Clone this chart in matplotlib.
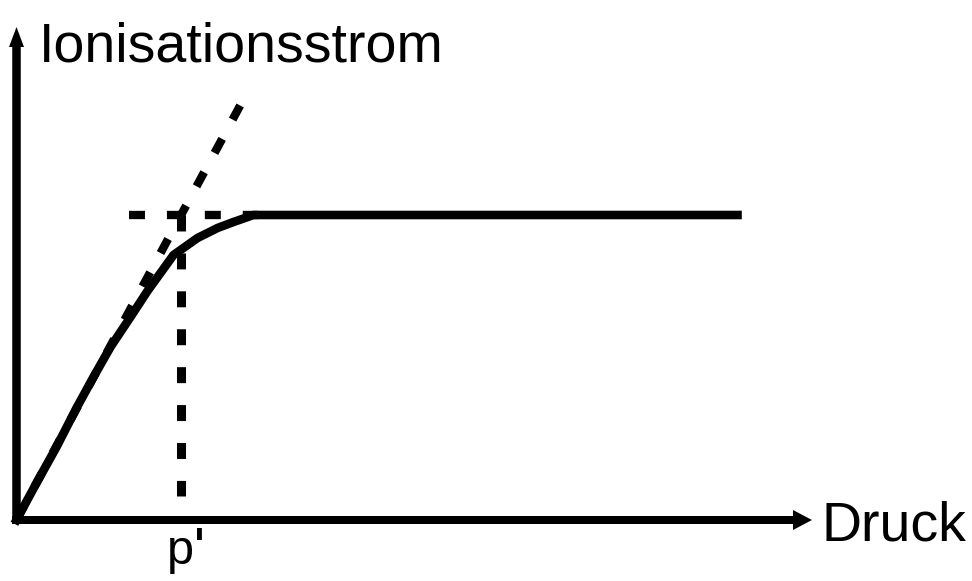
import matplotlib
matplotlib.use("Agg")
import matplotlib.pyplot as plt

# Ionisationsstrom in Abhaengigkeit vom Druck (schematisch)
druck = [0, 20, 40, 60, 77, 94, 114, 131, 157, 181, 201, 217, 237, 721]
strom = [0, 37, 73, 112, 143, 173, 203, 229, 265, 282, 292, 298, 305, 305]

# Tangente im Ursprung und Saettigungswert
tangente_x = [0, 225]
tangente_y = [0, 417]
saettigung = 305
p_strich = 164.5
saett_x = [112.5, 241.5]
p_y = [305, 24]

plt.rcParams['lines.scale_dashes'] = False
schrift = ['Liberation Sans Narrow', 'Liberation Sans']

fig = plt.figure(figsize=(9.72, 5.81), dpi=100)
ax = fig.add_axes([0, 0, 1, 1])
ax.set_xlim(-16.5, 955.5)
ax.set_ylim(-61, 520)
ax.axis('off')

strich = (0, (11.5, 15.8))

# Achsen mit Pfeilspitzen
ax.arrow(-4.5, 0, 800, 0, width=8, head_width=20, head_length=19,
         length_includes_head=True, color='black', lw=0)
ax.arrow(0, -4, 0, 497, width=8.5, head_width=15, head_length=20,
         length_includes_head=True, color='black', lw=0)

# Hilfslinien
ax.plot(tangente_x, tangente_y, color='black', lw=6, linestyle=strich)
ax.plot(saett_x, [saettigung, saettigung], color='black', lw=6, linestyle=strich)
ax.plot([p_strich, p_strich], p_y, color='black', lw=6.5, linestyle=strich)

# Kennlinie
ax.plot(druck, strom, color='black', lw=6.2, solid_joinstyle='round')

ax.text(22.5, 459, 'Ionisationsstrom', family=schrift, fontsize=40,
        ha='left', va='baseline')
ax.text(804.5, -20.5, 'Druck', family=schrift, fontsize=40,
        ha='left', va='baseline')
ax.text(150.5, -44, 'p', family=schrift, fontsize=35,
        ha='left', va='baseline')
ax.text(176, -39.5, "'", family='DejaVu Sans', fontweight='bold', fontsize=30,
        ha='left', va='baseline')

fig.savefig('out.png', dpi=100)
